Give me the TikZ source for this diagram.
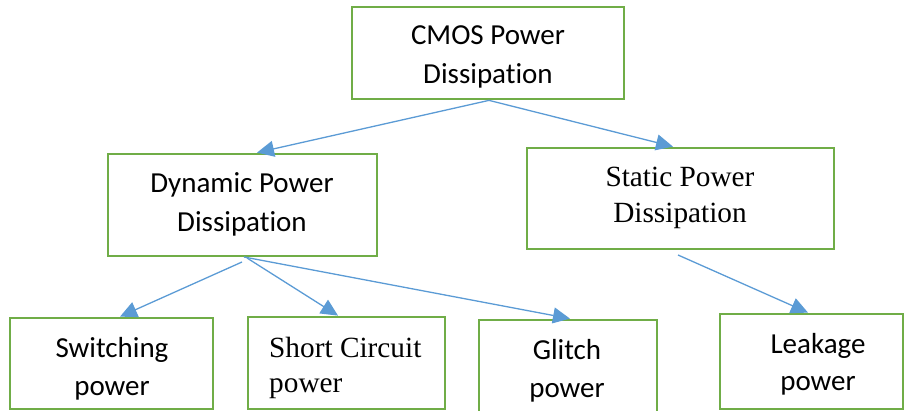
\documentclass[tikz,border=0pt]{standalone}
\usepackage{fontspec}
\setmainfont{Carlito}[Ligatures={NoCommon,NoContextual},RawFeature={-liga;-clig;-calt}]
\newfontfamily\timesf{Liberation Serif}
\usetikzlibrary{arrows.meta}
\definecolor{boxgreen}{HTML}{70AD47}
\definecolor{arrblue}{HTML}{5B9BD5}
\begin{document}
\begin{tikzpicture}[x=1pt,y=-1pt,
  box/.style={draw=boxgreen,line width=2.75pt,rectangle,inner sep=0pt,fill=none},
  cal/.style={font=\fontsize{29}{39}\selectfont,align=center,inner sep=0pt,anchor=base},
  tms/.style={font=\timesf\fontsize{29.3}{36.5}\selectfont,align=center,inner sep=0pt,anchor=base},
  arr/.style={draw=arrblue,line width=1.3pt,-{Triangle[length=17pt,width=16pt]}}]
\useasboundingbox (0,0) rectangle (904,411);
% boxes
\node[box,minimum width=272pt,minimum height=92pt]  (cmos) at (488,53) {};
\node[box,minimum width=269pt,minimum height=102pt] (dyn)  at (242.5,205) {};
\node[box,minimum width=307pt,minimum height=101pt] (stat) at (680.5,198.5) {};
\node[box,minimum width=203pt,minimum height=91pt]  (sw)   at (111.5,363.5) {};
\node[box,minimum width=197pt,minimum height=92pt]  (sc)   at (346.5,363) {};
\node[box,minimum width=178pt,minimum height=100pt] (gl)   at (568,370) {};
\node[box,minimum width=183pt,minimum height=95pt]  (lk)   at (811.5,361.5) {};
% texts (anchored at the baseline of the last line)
\node[cal] (cmosT) at (488,84) {CMOS Power\\Dissipation};
\node[cal] (dynT) at (242,232) {Dynamic Power\\Dissipation};
\node[tms] (statT) at (680,223) {Static Power\\Dissipation};
\node[cal,font=\fontsize{29}{38}\selectfont] (swT) at (112,395) {Switching\\power};
\node[tms,align=left,anchor=base west,font=\timesf\fontsize{29.3}{35}\selectfont] (scT) at (269,392) {Short Circuit\\power};
\node[cal,font=\fontsize{29}{38}\selectfont] (glT) at (567,397) {Glitch\\power};
\node[cal,font=\fontsize{29}{37}\selectfont] (lkT) at (818,390) {Leakage\\power};
% connector start points
\coordinate (d1) at (242,262);
\coordinate (d2) at (247,258);
\coordinate (d3) at (244,257);
\coordinate (s1) at (678,255);
% connectors
\draw[arr] ([xshift=1pt]cmos.south) -- ([xshift=14.5pt]dyn.north);
\draw[arr] ([xshift=1pt]cmos.south) -- ([xshift=-7.5pt]stat.north);
\draw[arr] (d1) -- ([xshift=8.5pt]sw.north);
\draw[arr] (d2) -- ([xshift=-8.5pt]sc.north);
\draw[arr] (d3) -- ([xshift=2pt]gl.north);
\draw[arr] (s1) -- ([xshift=-3.5pt]lk.north);
\end{tikzpicture}
\end{document}
